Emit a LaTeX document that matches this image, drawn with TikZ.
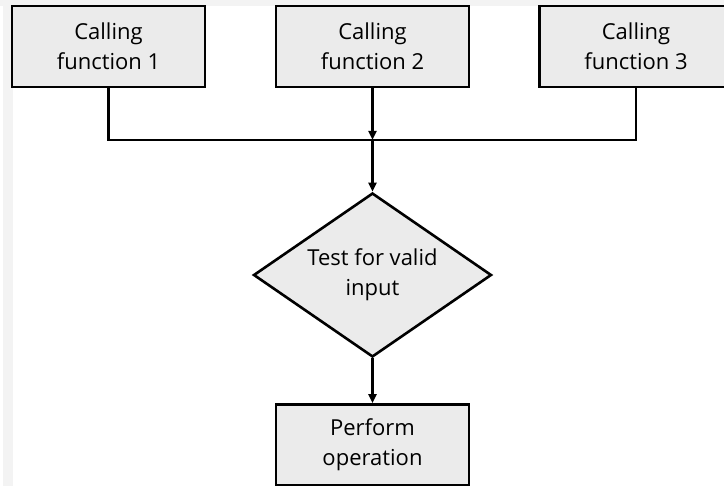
\documentclass[tikz,border=0pt]{standalone}
\usepackage{fontspec}
\setmainfont{Open Sans}
\usetikzlibrary{shapes.geometric,arrows.meta}
\definecolor{boxfill}{HTML}{EBEBEB}
\definecolor{bandgrey}{HTML}{F3F3F3}
\tikzset{
  x=1pt,y=-1pt,
  flowbox/.style={draw=black,line width=2.6pt,fill=boxfill,minimum width=193pt,minimum height=81pt,
    inner sep=0pt,align=center,font=\fontsize{22}{30}\selectfont},
  decide/.style={diamond,draw=black,line width=2.6pt,fill=boxfill,minimum width=238pt,minimum height=164pt,
    aspect=1.45,inner sep=0pt,align=center,font=\fontsize{22}{30}\selectfont},
  conn/.style={line width=2.4pt,black},
  arr/.style={conn,-{Triangle[length=9pt,width=8pt]}}
}
\begin{document}
\begin{tikzpicture}
\useasboundingbox (0,0) rectangle (724,486);
\clip (0,0) rectangle (724,486);
\fill[white] (0,0) rectangle (724,486);
\fill[bandgrey] (0,0) rectangle (724,6);
\fill[bandgrey] (3,0) rectangle (13,486);
\node[flowbox] (b1) at (108.5,46.5) {Calling\\function 1};
\node[flowbox] (b2) at (372.5,46.5) {Calling\\function 2};
\node[flowbox] (b3) at (636,46.5) {Calling\\function 3};
\coordinate (j) at (372.5,140);
\node[decide] (d) at (372.5,275) {Test for valid\\input};
\node[flowbox] (p) at (372.5,445) {Perform\\operation};
\draw[conn] (b1.south) |- (j) -| (b3.south);
\draw[arr] (b2.south) -- (j);
\draw[arr] (j) -- (d.north);
\draw[arr] (d.south) -- (p.north);
\end{tikzpicture}
\end{document}
